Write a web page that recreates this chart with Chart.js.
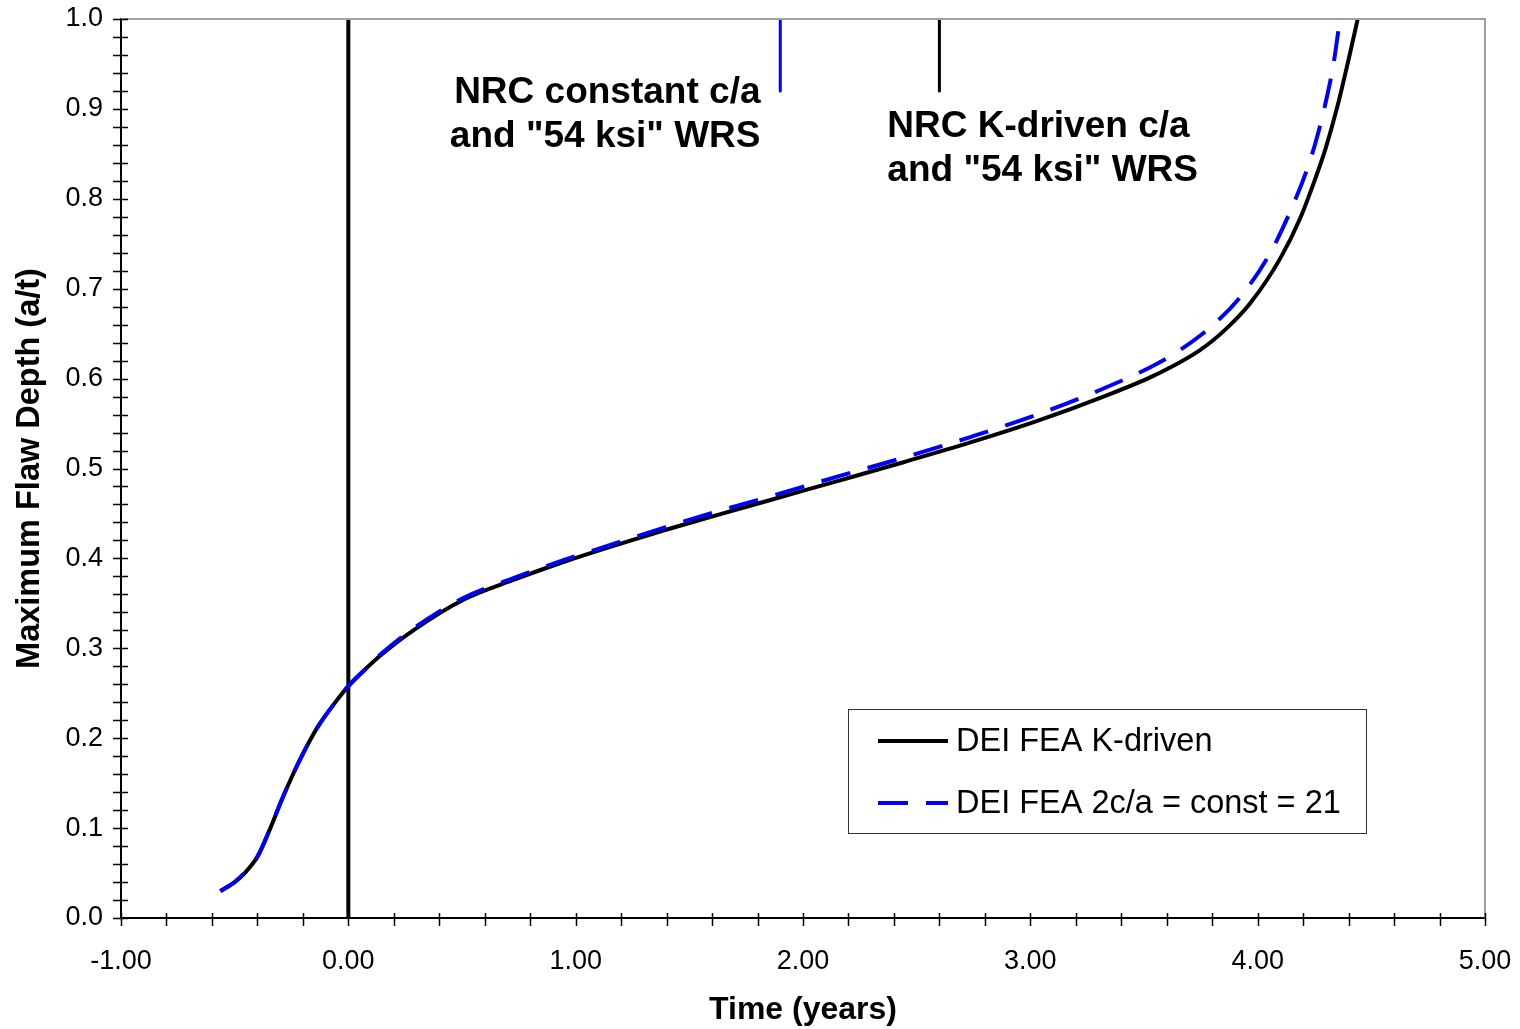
<!DOCTYPE html>
<html>
<head>
<meta charset="utf-8">
<title>Maximum Flaw Depth vs Time</title>
<script src="https://cdn.jsdelivr.net/npm/chart.js@4.4.1/dist/chart.umd.min.js"></script>
<style>
  html, body { margin: 0; padding: 0; background: #fff; }
  #wrap { width: 1520px; height: 1029px; }
</style>
</head>
<body>
<div id="wrap"><canvas id="flawChart" width="1520" height="1029"></canvas></div>
<script>
// DEI FEA K-driven (black solid)
const timeKDriven = [-0.563, -0.50, -0.46, -0.40, -0.343, -0.30, -0.268, -0.211, -0.136, -0.048, 0.00, 0.097, 0.141, 0.286, 0.506, 0.726, 0.946, 1.166, 1.386, 1.606, 1.857, 2.151, 2.442, 2.736, 3.031, 3.322, 3.541, 3.748, 3.86, 3.968, 4.10, 4.188, 4.25, 4.30, 4.35, 4.40, 4.44];
const depthKDriven = [0.030, 0.040, 0.049, 0.068, 0.100, 0.127, 0.146, 0.177, 0.212, 0.243, 0.258, 0.282, 0.292, 0.320, 0.354, 0.376, 0.396, 0.414, 0.431, 0.447, 0.465, 0.486, 0.507, 0.529, 0.553, 0.580, 0.603, 0.632, 0.655, 0.684, 0.734, 0.779, 0.820, 0.857, 0.902, 0.955, 1.000];

// DEI FEA 2c/a = const = 21 (blue dashed)
const timeConst = [-0.563, -0.50, -0.46, -0.40, -0.343, -0.30, -0.268, -0.211, -0.136, -0.048, 0.00, 0.097, 0.141, 0.286, 0.506, 0.726, 0.946, 1.166, 1.386, 1.606, 1.857, 2.151, 2.442, 2.736, 3.031, 3.322, 3.53, 3.66, 3.823, 3.94, 4.06, 4.157, 4.219, 4.254, 4.307, 4.335, 4.362];
const depthConst = [0.030, 0.040, 0.049, 0.068, 0.100, 0.127, 0.146, 0.177, 0.212, 0.243, 0.258, 0.282, 0.293, 0.322, 0.356, 0.378, 0.398, 0.416, 0.434, 0.451, 0.469, 0.491, 0.512, 0.535, 0.560, 0.589, 0.613, 0.632, 0.664, 0.696, 0.742, 0.794, 0.834, 0.862, 0.916, 0.952, 1.000];

// vertical reference lines
const zeroLineTime = [0, 0];
const zeroLineDepth = [0, 1];
const nrcConstTime = [1.90, 1.90];
const nrcKTime = [2.60, 2.60];
const nrcMarkDepth = [0.92, 1.0];

const seriesLabels = ['DEI FEA K-driven', 'DEI FEA 2c/a = const = 21'];
const noteConstLines = ['NRC constant c/a', 'and "54 ksi" WRS'];
const noteKLines = ['NRC K-driven c/a', 'and "54 ksi" WRS'];

const xMin = -1, xMax = 5, xStep = 1, xMinorStep = 0.2;
const yMin = 0, yMax = 1, yStep = 0.1, yMinorStep = 0.02;

const FONT = '"Liberation Sans", Arial, sans-serif';

function toPoints(xs, ys) {
    return xs.map((v, i) => ({ x: v, y: ys[i] }));
}

// ticks that cross the axes, chart frame, notes and boxed legend
const extrasPlugin = {
    id: 'extras',
    afterDraw(chart) {
        const { ctx, chartArea, scales } = chart;
        const xs = scales.x, ys = scales.y;
        ctx.save();

        // grey frame on top and right
        ctx.strokeStyle = '#a0a0a0';
        ctx.lineWidth = 2;
        ctx.beginPath();
        ctx.moveTo(chartArea.left, chartArea.top);
        ctx.lineTo(chartArea.right, chartArea.top);
        ctx.lineTo(chartArea.right, chartArea.bottom);
        ctx.stroke();

        // tick marks
        ctx.strokeStyle = '#000';
        ctx.lineWidth = 1.5;
        ctx.beginPath();
        const nY = Math.round((yMax - yMin) / yMinorStep);
        for (let i = 0; i <= nY; i++) {
            const py = Math.round(ys.getPixelForValue(yMin + i * yMinorStep)) + 0.5;
            ctx.moveTo(chartArea.left - 8, py);
            ctx.lineTo(chartArea.left + 7, py);
        }
        const nX = Math.round((xMax - xMin) / xMinorStep);
        for (let i = 0; i <= nX; i++) {
            const px = Math.round(xs.getPixelForValue(xMin + i * xMinorStep)) + 0.5;
            ctx.moveTo(px, chartArea.bottom - 5);
            ctx.lineTo(px, chartArea.bottom + 8);
        }
        ctx.stroke();

        // notes
        ctx.fillStyle = '#000';
        ctx.font = 'bold 37px ' + FONT;
        ctx.textBaseline = 'middle';
        ctx.textAlign = 'right';
        noteConstLines.forEach((t, i) => {
            ctx.fillText(t, xs.getPixelForValue(1.813), ys.getPixelForValue(0.918) + i * 44);
        });
        ctx.textAlign = 'left';
        noteKLines.forEach((t, i) => {
            ctx.fillText(t, xs.getPixelForValue(2.371), ys.getPixelForValue(0.880) + i * 44);
        });

        // legend box
        const lx = 848, ly = 709, lw = 518, lh = 124;
        ctx.fillStyle = '#fff';
        ctx.fillRect(lx, ly, lw, lh);
        ctx.strokeStyle = '#333';
        ctx.lineWidth = 1;
        ctx.strokeRect(lx + 0.5, ly + 0.5, lw, lh);
        ctx.font = '32.5px ' + FONT;
        ctx.textAlign = 'left';
        ctx.textBaseline = 'middle';
        [0, 1].forEach(i => {
            const ds = chart.data.datasets[i];
            const rowY = ly + 32 + i * 62;
            ctx.strokeStyle = ds.borderColor;
            ctx.lineWidth = ds.borderWidth;
            ctx.setLineDash(ds.borderDash || []);
            ctx.beginPath();
            ctx.moveTo(lx + 30, rowY);
            ctx.lineTo(lx + 100, rowY);
            ctx.stroke();
            ctx.setLineDash([]);
            ctx.fillStyle = '#000';
            ctx.fillText(ds.label, lx + 108, rowY + 1);
        });

        ctx.restore();
    }
};

const ctx = document.getElementById('flawChart').getContext('2d');

new Chart(ctx, {
    type: 'line',
    data: {
        datasets: [
            {
                label: seriesLabels[0],
                data: toPoints(timeKDriven, depthKDriven),
                borderColor: '#000000',
                borderWidth: 4,
                cubicInterpolationMode: 'monotone',
                pointRadius: 0,
                fill: false,
                order: 1,
            },
            {
                label: seriesLabels[1],
                data: toPoints(timeConst, depthConst),
                borderColor: '#0000ff',
                borderWidth: 4,
                borderDash: [30, 18],
                borderCapStyle: 'butt',
                cubicInterpolationMode: 'monotone',
                pointRadius: 0,
                fill: false,
                order: 0,
            },
            {
                label: 'zero',
                data: toPoints(zeroLineTime, zeroLineDepth),
                borderColor: '#000000',
                borderWidth: 4,
                pointRadius: 0,
                order: 2,
            },
            {
                label: 'nrc const',
                data: toPoints(nrcConstTime, nrcMarkDepth),
                borderColor: '#0000ff',
                borderWidth: 3,
                borderCapStyle: 'round',
                pointRadius: 0,
                order: 2,
            },
            {
                label: 'nrc k',
                data: toPoints(nrcKTime, nrcMarkDepth),
                borderColor: '#000000',
                borderWidth: 3,
                borderCapStyle: 'round',
                pointRadius: 0,
                order: 2,
            },
        ],
    },
    options: {
        responsive: false,
        animation: false,
        layout: { padding: { top: 19, right: 35, left: 0, bottom: 0 } },
        plugins: {
            legend: { display: false },
            tooltip: { enabled: false },
        },
        scales: {
            x: {
                type: 'linear',
                min: xMin,
                max: xMax,
                grid: { display: false, drawTicks: false },
                border: { display: true, color: '#000', width: 2 },
                ticks: {
                    stepSize: xStep,
                    padding: 27,
                    color: '#000',
                    font: { family: FONT, size: 27 },
                    callback: v => Number(v).toFixed(2),
                },
                title: {
                    display: true,
                    text: 'Time (years)',
                    color: '#000',
                    font: { family: FONT, size: 32, weight: 'bold' },
                    padding: { top: 0, bottom: 0 },
                },
                afterFit: s => {
                    s.height = 111;
                    s.paddingLeft = 0;
                    s.paddingRight = 0;
                },
            },
            y: {
                type: 'linear',
                min: yMin,
                max: yMax,
                grid: { display: false, drawTicks: false },
                border: { display: true, color: '#000', width: 2 },
                ticks: {
                    stepSize: yStep,
                    padding: 18,
                    color: '#000',
                    font: { family: FONT, size: 27 },
                    callback: v => Number(v).toFixed(1),
                },
                title: {
                    display: true,
                    text: 'Maximum Flaw Depth (a/t)',
                    color: '#000',
                    font: { family: FONT, size: 32.5, weight: 'bold' },
                    padding: { top: 11, bottom: 11 },
                },
                afterFit: s => {
                    s.width = 121;
                    s.paddingTop = 0;
                    s.paddingBottom = 0;
                },
            },
        },
    },
    plugins: [extrasPlugin],
});
</script>
</body>
</html>
